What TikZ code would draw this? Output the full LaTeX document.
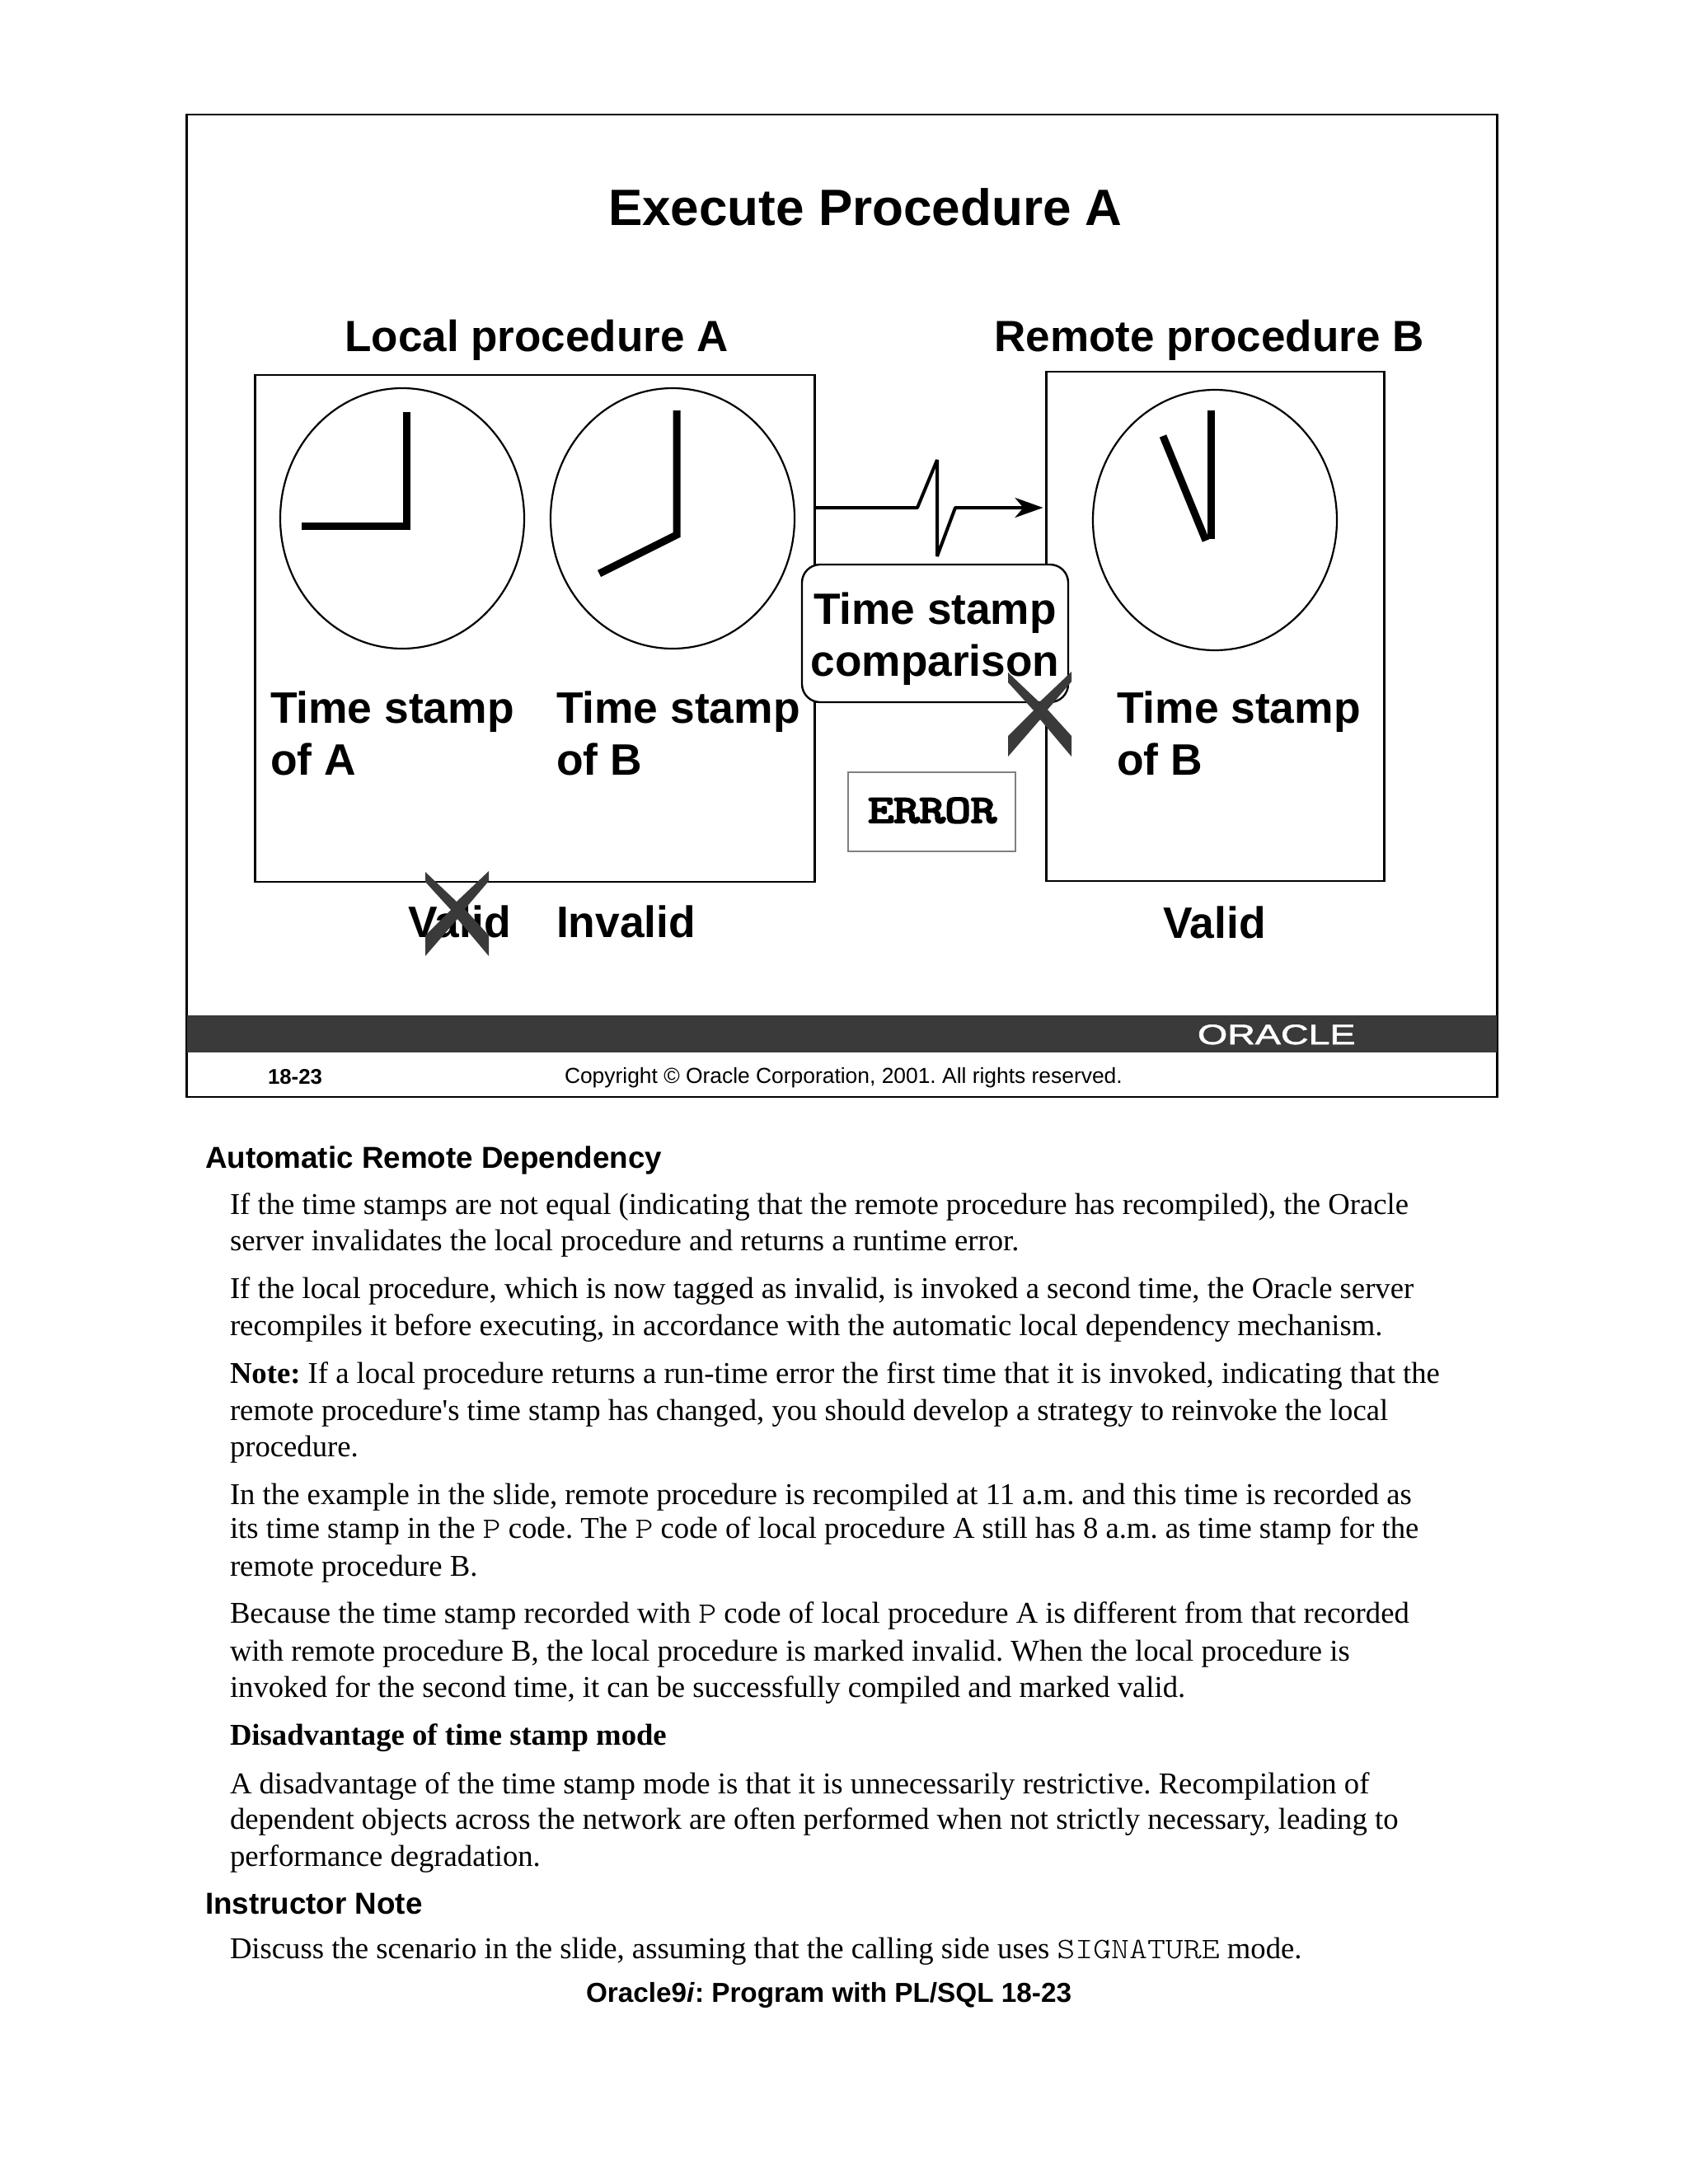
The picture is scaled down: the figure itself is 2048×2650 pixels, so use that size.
\documentclass[tikz,border=0pt]{standalone}
\usepackage{fontspec}
\usetikzlibrary{arrows.meta,shapes.geometric}
\newfontfamily\bodyf{Liberation Serif}
\newfontfamily\sansf{Liberation Sans}
\newfontfamily\logof[FakeBold=1.5]{Liberation Sans}
\newfontfamily\errf[FakeBold=4.5]{Latin Modern Mono}
\definecolor{xgray}{HTML}{3A3A3A}
\definecolor{errgray}{HTML}{808080}
\newcommand{\mcode}[1]{\scalebox{1.16}[1]{\ttfamily\fontseries{l}\fontsize{18}{20}\selectfont #1}}
\newcommand{\crossmark}[1]{\fill[xmark,shift={(#1)}] (0,0) -- (38,36) -- (77,-1) -- (77,11) -- (48,45) -- (77,77) -- (77,102) -- (39,57) -- (0,102) -- (0,77) -- (31,46) -- (0,12) -- cycle;}
\tikzset{
  txt/.style={inner sep=0pt,outer sep=0pt,text=black},
  body/.style={txt,anchor=base west,font=\bodyf\frenchspacing\fontsize{18.34}{20}\selectfont},
  head/.style={txt,anchor=base west,font=\sansf\frenchspacing\bfseries\fontsize{18.4}{20}\selectfont},
  big/.style={txt,anchor=base west,font=\sansf\bfseries\fontsize{26.7}{30}\selectfont},
  subt/.style={txt,anchor=base,font=\sansf\bfseries\fontsize{26.5}{30}\selectfont},
  boxed/.style={draw=black,line width=1.3pt,inner sep=0pt,outer sep=0pt},
  clock/.style={draw=black,line width=1.1pt,ellipse,minimum width=148pt,minimum height=158pt,inner sep=0pt},
  hand/.style={draw=black,line width=4.5pt},
  xmark/.style={fill=xgray,draw=none},
  link/.style={draw=black,line width=2pt,line join=bevel,-{Stealth[length=17pt,width=12pt,inset=5pt]}},
}
\begin{document}
\begin{tikzpicture}[x=0.5pt,y=-0.5pt]
\useasboundingbox (0,0) rectangle (2048,2650);
\fill[white] (0,0) rectangle (2048,2650);
% slide frame
\node[boxed,minimum width=795pt,minimum height=596pt] (frame) at (1021.5,735) {};
\fill[xgray] (227,1232) rectangle (1816,1277);
\node[txt,anchor=base west,text=white,font=\logof\fontsize{17}{18}\selectfont,xscale=1.37,transform shape] (logo) at (1453,1267) {ORACLE};
\node[txt,anchor=base west,font=\sansf\frenchspacing\bfseries\fontsize{12.9}{15}\selectfont] (pg) at (325,1315) {18-23};
\node[txt,anchor=base west,font=\sansf\frenchspacing\fontsize{13.2}{15}\selectfont] (copy) at (685,1314) {Copyright © Oracle Corporation, 2001. All rights reserved.};
% titles
\node[txt,anchor=base,font=\sansf\bfseries\fontsize{31}{32}\selectfont] (title) at (1050,273) {Execute Procedure A};
\node[subt] (la) at (651,426) {Local procedure A};
\node[subt] (rb) at (1467,426) {Remote procedure B};
% boxes
\node[boxed,minimum width=339.5pt,minimum height=307.5pt] (lbox) at (649,762.5) {};
\node[boxed,minimum width=205pt,minimum height=309pt] (rbox) at (1474.5,760) {};
% clocks
\node[clock] (c1) at (488,629) {};
\node[clock] (c2) at (816,629) {};
\node[clock] (c3) at (1474,631) {};
\draw[hand] (493,500) -- (493,638.5) -- (366,638.5);
\draw[hand] (821,498) -- (821,649) -- (727,696);
\draw[hand] (1469,498) -- (1469,654);
\draw[hand] (1411,529) -- (1463,656);
% labels
\node[big] (t1) at (328,877) {Time stamp};
\node[big] (t1b) at (328,940) {of A};
\node[big] (t2) at (675,877) {Time stamp};
\node[big] (t2b) at (675,940) {of B};
\node[big] (t3) at (1355,877) {Time stamp};
\node[big] (t3b) at (1355,940) {of B};
\node[big] (v1) at (495,1137) {Valid};
\node[big] (v2) at (675,1137) {Invalid};
\node[big] (v3) at (1411,1138) {Valid};
% connector
\coordinate (ls) at (lbox.east |- 0,616);
\coordinate (re) at ([xshift=-2pt]rbox.west |- 0,616);
\draw[link] (ls) -- (1113,616) -- (1137,558) -- (1137,675) -- (1159,616) -- (re);
% comparison box
\node[draw=black,line width=1.2pt,fill=white,rounded corners=11pt,minimum width=161.5pt,minimum height=83.5pt,inner sep=0pt] (cmp) at (1134.5,768.5) {};
\node[txt,anchor=base,font=\sansf\bfseries\fontsize{26.6}{30}\selectfont] (cmp1) at (1134.5,757) {Time stamp};
\node[txt,anchor=base,font=\sansf\bfseries\fontsize{26.6}{30}\selectfont] (cmp2) at (1134.5,820) {comparison};
% error
\node[draw=errgray,line width=0.8pt,fill=white,minimum width=101.5pt,minimum height=48pt,inner sep=0pt] (err) at (1130.5,985) {};
\node[txt,anchor=base,font=\errf\fontsize{24}{26}\selectfont,xscale=1.26,transform shape] (errt) at (1131,998) {ERROR};
% crosses
\crossmark{516,1058}
\crossmark{1223,816}
% text below
\node[head] (h1) at (249,1417) {Automatic Remote Dependency};
\node[body] (b1) at (279,1473) {If the time stamps are not equal (indicating that the remote procedure has recompiled), the Oracle};
\node[body] (b2) at (279,1517) {server invalidates the local procedure and returns a runtime error.};
\node[body] (b3) at (279,1575) {If the local procedure, which is now tagged as invalid, is invoked a second time, the Oracle server};
\node[body] (b4) at (279,1620) {recompiles it before executing, in accordance with the automatic local dependency mechanism.};
\node[body] (b5) at (279,1678) {\textbf{Note:} If a local procedure returns a run-time error the first time that it is invoked, indicating that the};
\node[body] (b6) at (279,1723) {remote procedure's time stamp has changed, you should develop a strategy to reinvoke the local};
\node[body] (b7) at (279,1767) {procedure.};
\node[body] (b8) at (279,1825) {In the example in the slide, remote procedure is recompiled at 11 a.m. and this time is recorded as};
\node[body] (b9) at (279,1866) {its time stamp in the \mcode{P} code. The \mcode{P} code of local procedure A still has 8 a.m. as time stamp for the};
\node[body] (b10) at (279,1912) {remote procedure B.};
\node[body] (b11) at (279,1969) {Because the time stamp recorded with \mcode{P} code of local procedure A is different from that recorded};
\node[body] (b12) at (279,2015) {with remote procedure B, the local procedure is marked invalid. When the local procedure is};
\node[body] (b13) at (279,2059) {invoked for the second time, it can be successfully compiled and marked valid.};
\node[body] (b14) at (279,2117) {\textbf{Disadvantage of time stamp mode}};
\node[body] (b15) at (279,2176) {A disadvantage of the time stamp mode is that it is unnecessarily restrictive. Recompilation of};
\node[body] (b16) at (279,2219) {dependent objects across the network are often performed when not strictly necessary, leading to};
\node[body] (b17) at (279,2264) {performance degradation.};
\node[head] (h2) at (249,2322) {Instructor Note};
\node[body] (b18) at (279,2376) {Discuss the scenario in the slide, assuming that the calling side uses \mcode{SIGNATURE} mode.};
\node[txt,anchor=base west,font=\sansf\frenchspacing\bfseries\fontsize{16.65}{18}\selectfont] (foot) at (711,2429) {Oracle9\textit{i}: Program with PL/SQL 18-23};
\end{tikzpicture}
\end{document}
